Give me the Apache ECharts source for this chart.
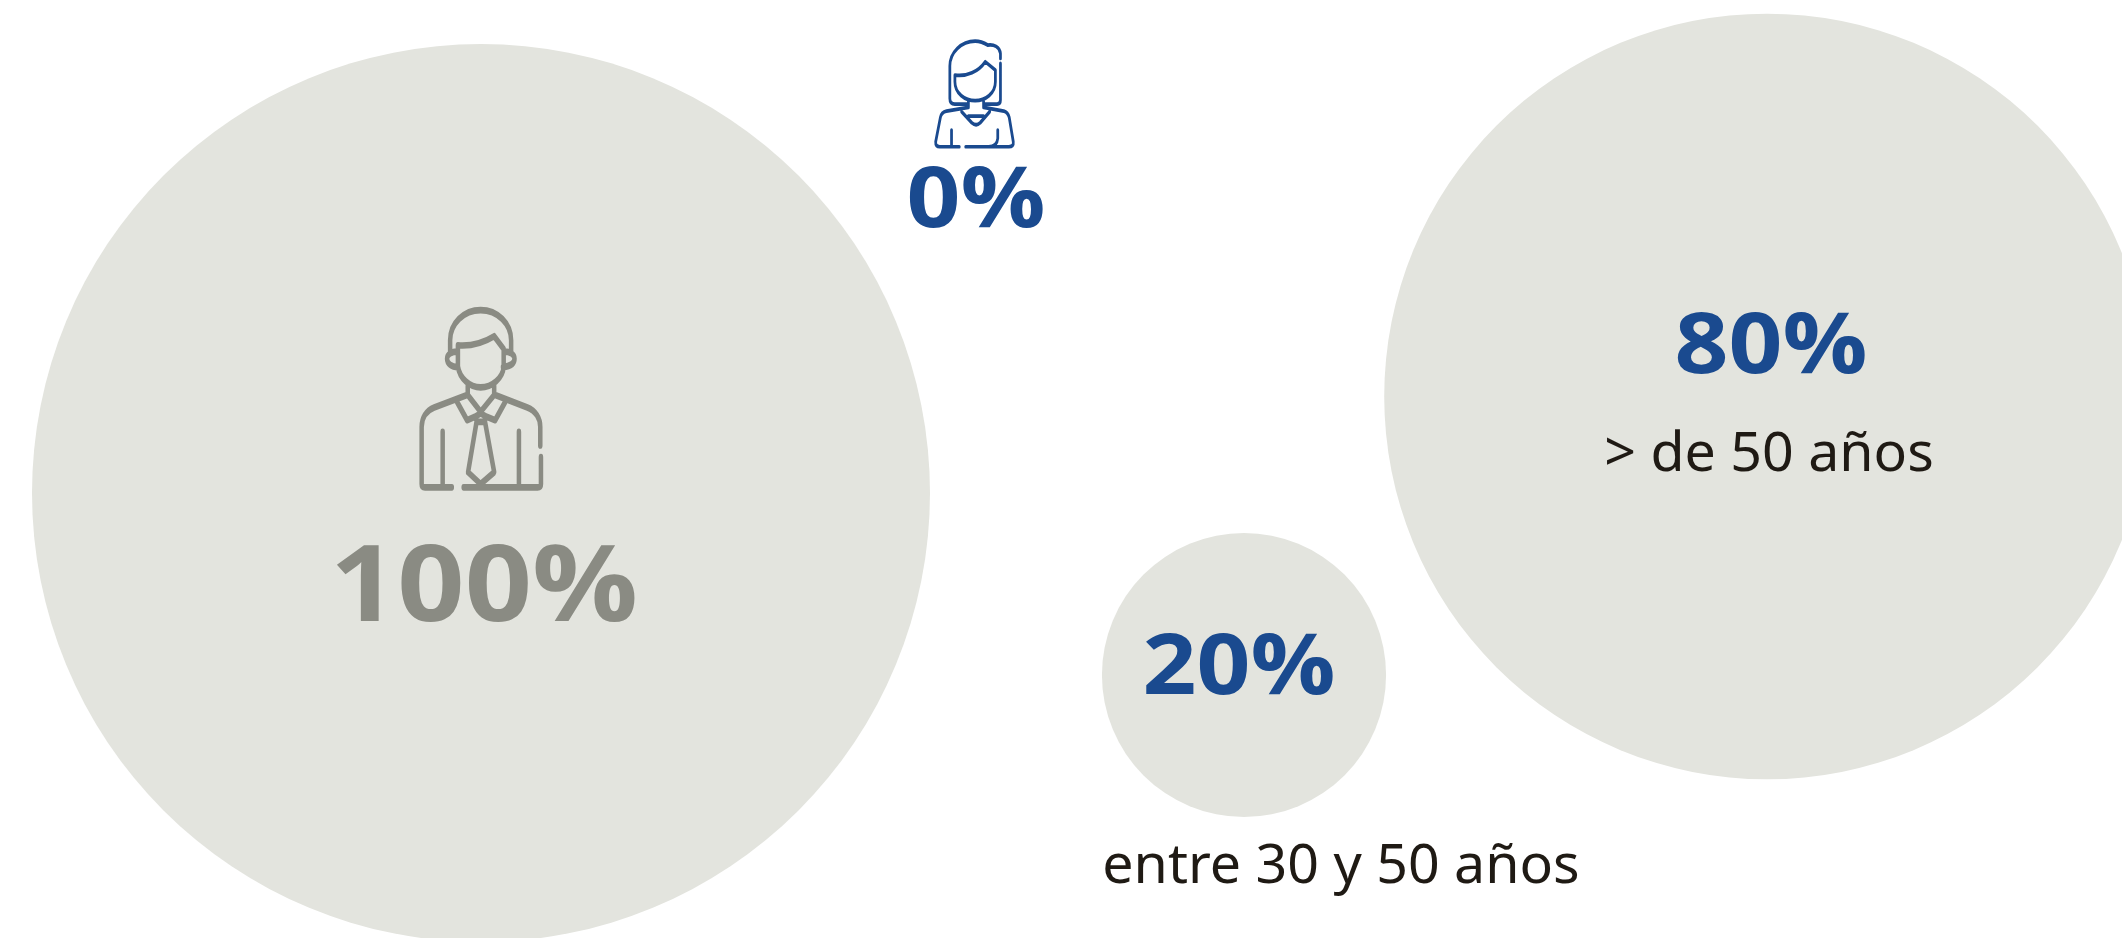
<!DOCTYPE html>
<html>
<head>
<meta charset="utf-8">
<style>html,body{margin:0;padding:0;background:#fff}#chart{width:2122px;height:938px}</style>
<script src="https://cdn.jsdelivr.net/npm/echarts@6/dist/echarts.min.js"></script>
</head>
<body>
<div id="chart"></div>
<script>
// Share of staff by gender and age group
const categories = ['Hombres', 'Mujeres', 'entre 30 y 50 años', '> de 50 años'];
const values = [100, 0, 20, 80];
const captions = ['', '', 'entre 30 y 50 años', '> de 50 años'];

// Layout, in canvas-sized axis units
const bubbleCentres = [[481, 493], [975, 94], [1244, 675], [1767, 396.5]];
const percentCentres = [[484, 591], [976, 203], [1239, 670], [1771, 349]];
const captionCentres = [null, null, [1341, 867], [1769, 455]];
const percentFont = [106, 85, 85, 85];
const percentWiden = 1.11;
const percentColor = ['#8a8b83', '#1a4a8f', '#1a4a8f', '#1a4a8f'];

// Bubble diameter grows with the value on a power scale
const bubbleDiameter = v => v > 0 ? 898 * Math.pow(v / 100, 0.715) : 0;

const manIcon = 'path://M212 215V182C212 132 252 92 302 92C352 92 392 132 392 182V215' +
  'M235 197V260C240 295 270 322 302 322C335 322 368 295 370 260V208L342 170C310 190 275 200 235 197Z' +
  'M235 215C215 215 203 225 203 237C203 250 215 262 235 262' +
  'M370 215C390 215 402 225 402 237C402 250 390 260 368 262' +
  'M264 318V345M342 318V345' +
  'M264 345L302 395L342 345' +
  'M232 365L262 420L285 410M375 365L345 420L320 410' +
  'M285 410L302 400L320 410L310 425H293Z' +
  'M290 425L265 575L302 610L342 575L315 425' +
  'M262 345L165 382C140 392 128 415 128 440V610Q128 620 138 620H217' +
  'M252 620H470Q480 620 480 610V530' +
  'M478 495V440C478 415 465 392 440 382L345 345' +
  'M190 455V620M415 455V620';

const womanIcon = 'path://M300 85V70C298 50 280 42 262 45C250 37 238 33 225 33C184 33 150 67 150 108V205Q150 222 165 222H205' +
  'M300 100V210Q300 222 290 222H255' +
  'M165 135C200 140 235 125 255 95L285 120V155C285 190 255 212 225 212C195 212 165 190 165 155Z' +
  'M205 212V232M250 212V232' +
  'M205 232L140 243Q125 246 122 262L108 335Q107 350 120 350H178' +
  'M197 350H265Q290 350 292 325V300' +
  'M250 232L310 243Q322 246 326 262L338 335Q340 350 325 350H270' +
  'M185 245L215 278Q228 290 240 278L268 245M205 258H250' +
  'M155 300V350';

const chart = echarts.init(document.getElementById('chart'), null, { renderer: 'canvas' });

const hiddenAxis = max => ({ type: 'value', min: 0, max, show: false });
const iconStyle = (borderColor, borderWidth) => ({
  borderColor, borderWidth, color: 'rgba(0,0,0,0)', opacity: 1, borderCap: 'round', borderJoin: 'round'
});

chart.setOption({
  animation: false,
  backgroundColor: '#ffffff',
  grid: { left: 0, right: 0, top: 0, bottom: 0 },
  xAxis: hiddenAxis(2122),
  yAxis: Object.assign(hiddenAxis(938), { inverse: true }),
  series: [
    {
      name: 'Círculos',
      type: 'scatter',
      silent: true,
      clip: false,
      z: 1,
      itemStyle: { color: '#e3e4de', opacity: 1 },
      data: values.map((v, i) => ({
        name: categories[i],
        value: bubbleCentres[i],
        symbolSize: bubbleDiameter(v)
      }))
    },
    {
      name: 'Iconos',
      type: 'scatter',
      silent: true,
      z: 2,
      data: [
        { value: [481.3, 398.7], symbol: manIcon, symbolSize: [119.3, 177.3], itemStyle: iconStyle('#8a8b83', 5.5) },
        { value: [974.5, 93.9], symbol: womanIcon, symbolSize: [77.7, 105.7], itemStyle: iconStyle('#1a4a8f', 3.2) }
      ]
    },
    {
      // Percentages are set in a slightly widened bold face
      name: 'Porcentajes',
      type: 'custom',
      silent: true,
      z: 5,
      coordinateSystem: 'cartesian2d',
      encode: { x: 0, y: 1 },
      data: values.map((v, i) => [percentCentres[i][0], percentCentres[i][1], v]),
      renderItem: (params, api) => {
        const [x, y] = api.coord([api.value(0), api.value(1)]);
        const i = params.dataIndex;
        return {
          type: 'text',
          x,
          y,
          scaleX: percentWiden,
          style: {
            text: api.value(2) + '%',
            align: 'center',
            verticalAlign: 'middle',
            font: '700 ' + percentFont[i] + 'px "Open Sans"',
            fill: percentColor[i]
          }
        };
      }
    },
    {
      name: 'Rangos de edad',
      type: 'scatter',
      silent: true,
      symbolSize: 0,
      z: 5,
      itemStyle: { opacity: 1 },
      data: captions.map((c, i) => c ? {
        value: captionCentres[i],
        label: {
          show: true,
          position: 'inside',
          align: 'center',
          verticalAlign: 'middle',
          formatter: c,
          fontFamily: '"Noto Sans"',
          fontSize: 55.5,
          color: '#1f1a14'
        }
      } : null).filter(Boolean)
    }
  ]
});
</script>
</body>
</html>
